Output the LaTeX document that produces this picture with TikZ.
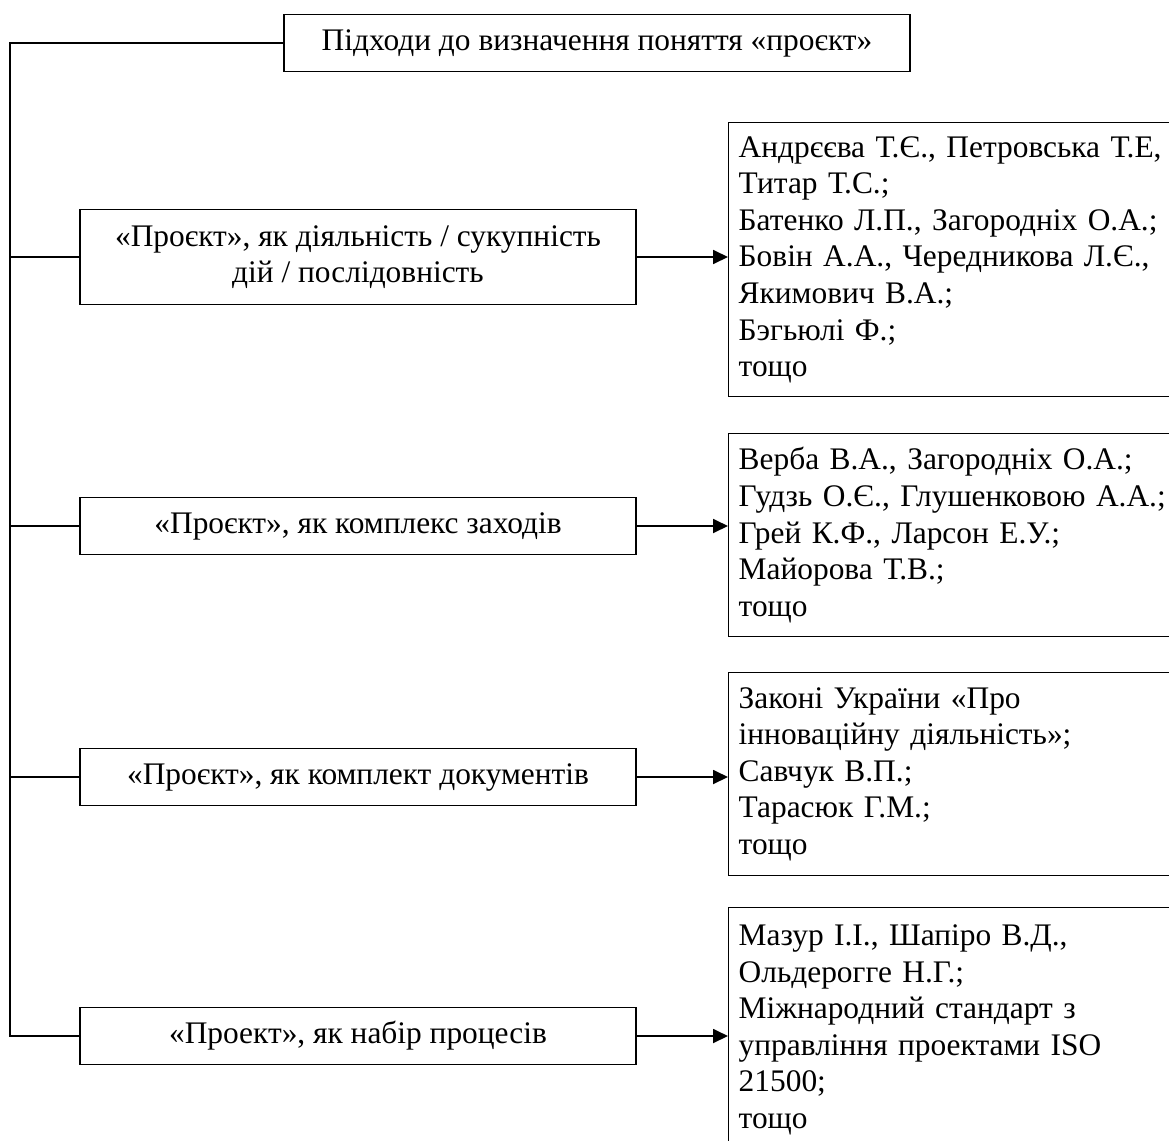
\documentclass[tikz,border=0pt]{standalone}
\usepackage{fontspec}
\setmainfont{Liberation Serif}
\usetikzlibrary{arrows.meta}
\usetikzlibrary{calc}

\begin{document}
\begin{tikzpicture}[x=1pt,y=-1pt,
		box/.style={draw,line width=1.4pt,font=\fontsize{31.4}{36.6}\selectfont},
		kind/.style={box,align=center,minimum width=556pt,minimum height=57pt},
		refs/.style={box,align=left,text width=440pt,inner xsep=10pt,anchor=north west},
		arr/.style={-{Triangle[length=15pt,width=14pt]},line width=1.8pt}]
		\clip (0,0) rectangle (1169,1140);
		\path
		(597,43) node[box,minimum width=626pt,minimum height=57pt](top) {Підходи до визначення поняття «проєкт»}
		(358,257) node[kind,minimum height=95pt](l1) {«Проєкт», як діяльність / сукупність\\дій / послідовність}
		(358,526) node[kind](l2) {«Проєкт», як комплекс заходів}
		(358,777) node[kind](l3) {«Проєкт», як комплект документів}
		(358,1036) node[kind](l4) {«Проект», як набір процесів};
		\path
		(728,122) node[refs,minimum height=274pt](r1) {Андрєєва Т.Є., Петровська Т.Е,\\Титар Т.С.;\\Батенко Л.П., Загородніх О.А.;\\Бовін А.А., Чередникова Л.Є.,\\Якимович В.А.;\\Бэгьюлі Ф.;\\тощо}
		(728,433) node[refs,minimum height=203pt](r2) {Верба В.А., Загородніх О.А.;\\Гудзь О.Є., Глушенковою А.А.;\\Грей К.Ф., Ларсон Е.У.;\\Майорова Т.В.;\\тощо}
		(728,672) node[refs,minimum height=203pt](r3) {Законі України «Про\\інноваційну діяльність»;\\Савчук В.П.;\\Тарасюк Г.М.;\\тощо}
		(728,907) node[refs,minimum height=244.5pt](r4) {Мазур І.І., Шапіро В.Д.,\\Ольдерогге Н.Г.;\\Міжнародний стандарт з\\управління проектами ISO\\21500;\\тощо};
		\coordinate (trunk) at (10,43);
		\draw[line width=1.4pt] (top.west) -- (trunk) |- (l4.west);
		\foreach \i in {1,2,3}
			\draw[line width=1.4pt] (l\i.west) -- (l\i.west -| trunk);
		\foreach \i in {1,2,3,4}
			\draw[arr] (l\i.east) -- (l\i.east -| r\i.west);
	\end{tikzpicture}
\end{document}
